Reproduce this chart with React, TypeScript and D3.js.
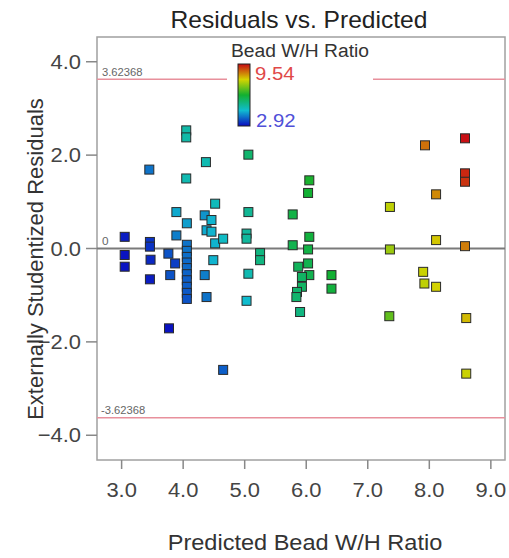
import React from "react";
import * as d3 from "d3";

// Diagnostic data: predicted Bead W/H ratio, externally studentized residual, actual ratio (colour)
const predicted = [
  3.05, 3.05, 3.05, 3.45, 3.46, 3.46, 3.47, 3.46, 3.77, 3.89,
  3.89, 3.76, 3.87, 3.79, 4.05, 4.05, 4.05, 4.06, 4.06, 4.06,
  4.06, 4.06, 4.06, 4.06, 4.06, 4.06, 4.06, 4.06, 4.37, 4.35,
  4.46, 4.52, 4.38, 4.46, 4.52, 4.49, 4.35, 4.38, 4.65, 4.65,
  5.06, 5.06, 5.03, 5.03, 5.06, 5.03, 5.25, 5.25, 6.05, 6.03,
  5.78, 6.05, 5.78, 6.03, 6.03, 5.87, 6.05, 5.93, 5.93, 5.85,
  5.84, 5.9, 6.41, 6.41, 7.36, 7.36, 7.35, 7.93, 8.11, 8.11,
  7.9, 7.92, 8.11, 8.58, 8.58, 8.58, 8.58, 8.6, 8.6,
];
const residuals = [
  0.25, -0.14, -0.39, 1.69, 0.14, 0.04, -0.24, -0.66, -1.71, 0.78,
  0.28, -0.11, -0.32, -0.57, 2.53, 2.38, 1.5, 0.54, 0.08, -0.05,
  -0.18, -0.3, -0.42, -0.55, -0.68, -0.82, -0.95, -1.08, 1.85, 0.71,
  0.61, 0.96, 0.39, 0.36, 0.11, -0.25, -0.57, -1.04, 0.21, -2.6,
  2.01, 0.78, 0.32, 0.21, -0.54, -1.12, -0.1, -0.25, 1.46, 1.19,
  0.73, 0.25, 0.07, -0.02, -0.32, -0.39, -0.57, -0.61, -0.82, -0.93,
  -1.04, -1.36, -0.57, -0.86, 0.89, -0.02, -1.45, 2.21, 1.16, 0.18,
  -0.5, -0.75, -0.82, 2.36, 1.61, 1.43, 0.05, -1.49, -2.68,
];
const actual = [
  3.1, 3.0, 3.0, 3.9, 3.3, 3.3, 3.2, 3.1, 3.0, 4.4,
  4.0, 3.6, 3.4, 3.6, 5.0, 5.0, 4.9, 4.3, 3.9, 3.9,
  3.85, 3.8, 3.8, 3.75, 3.7, 3.7, 3.65, 3.6, 4.9, 4.2,
  4.5, 4.8, 4.4, 4.5, 4.5, 4.5, 4.0, 3.9, 4.7, 3.7,
  5.6, 5.2, 5.1, 5.1, 4.9, 4.6, 5.4, 5.4, 6.3, 6.2,
  6.0, 6.1, 5.9, 6.0, 5.9, 5.8, 5.9, 5.7, 5.7, 5.6,
  5.6, 5.4, 6.2, 6.1, 7.7, 7.4, 6.9, 8.7, 8.5, 8.0,
  7.8, 7.7, 7.9, 9.5, 9.3, 9.2, 8.6, 8.1, 7.8,
];

const xTicks = [3, 4, 5, 6, 7, 8, 9];
const yTicks = [-4, -2, 0, 2, 4];
const limitValue = 3.62368;
const colorMin = 2.92;
const colorMax = 9.54;
const colorStops = ["#0a0ac0", "#10bcd0", "#12b030", "#d4d400", "#c80a14"];

const W = 509;
const H = 558;
const FONT = "'Liberation Sans', Arial, sans-serif";
const STRETCH = 1.07;

// horizontal text, slightly widened
function HText({
  x,
  y,
  size,
  fill,
  anchor = "start",
  children,
}: {
  x: number;
  y: number;
  size: number;
  fill: string;
  anchor?: "start" | "middle" | "end";
  children: React.ReactNode;
}) {
  return (
    <text
      transform={`translate(${x},${y}) scale(${STRETCH},1)`}
      textAnchor={anchor}
      fontSize={size}
      fill={fill}
    >
      {children}
    </text>
  );
}

export default function App() {
  const x = d3.scaleLinear().domain([2.6, 9.23]).range([97, 505]);
  const y = d3.scaleLinear().domain([-4.53, 4.53]).range([460, 37]);
  const color = d3
    .scaleLinear<string>()
    .domain(d3.range(5).map((i) => colorMin + (i * (colorMax - colorMin)) / 4))
    .range(colorStops)
    .interpolate(d3.interpolateRgb);
  const fmt = d3.format(".1f");
  const [x0, x1] = x.range();
  const [yb, yt] = y.range();

  const points = predicted.map((p, i) => ({ p, r: residuals[i], a: actual[i] }));

  // colour bar geometry
  const barX = 238;
  const barTop = 64;
  const barBottom = 126;
  const gradStops = d3.range(0, 1.0001, 0.05).map((t) => ({
    offset: t,
    c: color(colorMax - t * (colorMax - colorMin)),
  }));

  return (
    <svg
      width={W}
      height={H}
      style={{ position: "absolute", left: 0, top: 0, background: "#fff" }}
      fontFamily={FONT}
    >
      <defs>
        <linearGradient id="cbar" x1="0" y1="0" x2="0" y2="1">
          {gradStops.map((s, i) => (
            <stop key={i} offset={s.offset} stopColor={s.c} />
          ))}
        </linearGradient>
      </defs>

      {/* title */}
      <HText x={299} y={28} size={23} fill="#222" anchor="middle">
        Residuals vs. Predicted
      </HText>

      {/* plot frame */}
      <rect x={x0} y={yt} width={x1 - x0} height={yb - yt} fill="none" stroke="#a0a0a0" strokeWidth={1.5} />

      {/* limit lines */}
      {[limitValue, -limitValue].map((v) => (
        <line key={v} x1={x0} x2={x1} y1={y(v)} y2={y(v)} stroke="#e8909c" strokeWidth={1.5} />
      ))}
      <HText x={102} y={y(limitValue) - 3} size={10.5} fill="#666">
        {limitValue.toFixed(5)}
      </HText>
      <HText x={101} y={y(-limitValue) - 4} size={10.5} fill="#666">
        {(-limitValue).toFixed(5)}
      </HText>

      {/* zero line */}
      <line x1={x0} x2={x1} y1={y(0)} y2={y(0)} stroke="#7a7a7a" strokeWidth={2} />
      <HText x={102} y={y(0) - 4} size={11} fill="#666">
        0
      </HText>

      {/* y axis ticks */}
      {yTicks.map((t) => (
        <g key={t}>
          <line x1={x0 - 11} x2={x0} y1={y(t)} y2={y(t)} stroke="#888" strokeWidth={1.5} />
          <HText x={81} y={y(t) + 7} size={20.5} fill="#444" anchor="end">
            {fmt(t)}
          </HText>
        </g>
      ))}
      {/* x axis ticks */}
      {xTicks.map((t) => (
        <g key={t}>
          <line x1={x(t)} x2={x(t)} y1={yb} y2={yb + 9} stroke="#888" strokeWidth={1.5} />
          <HText x={x(t)} y={497} size={20.5} fill="#444" anchor="middle">
            {fmt(t)}
          </HText>
        </g>
      ))}

      {/* axis titles */}
      <text
        transform={`translate(43, 259) rotate(-90)`}
        textAnchor="middle"
        fontSize={22}
        fill="#333"
      >
        Externally Studentized Residuals
      </text>
      <HText x={305} y={550} size={22} fill="#333" anchor="middle">
        Predicted Bead W/H Ratio
      </HText>

      {/* points */}
      {points.map((d, i) => (
        <rect
          key={i}
          x={x(d.p) - 4.5}
          y={y(d.r) - 4.5}
          width={9}
          height={9}
          fill={color(d.a)}
          stroke="#2a2a2a"
          strokeWidth={1}
        />
      ))}

      {/* colour legend */}
      <rect x={227} y={39} width={146} height={92} fill="#fff" />
      <HText x={300} y={57} size={18} fill="#333" anchor="middle">
        Bead W/H Ratio
      </HText>
      <rect
        x={barX}
        y={barTop}
        width={12}
        height={barBottom - barTop}
        fill="url(#cbar)"
        stroke="#222"
        strokeWidth={1}
      />
      <HText x={255} y={80} size={19} fill="#e04848">
        {colorMax.toFixed(2)}
      </HText>
      <HText x={256} y={127} size={19} fill="#5050d8">
        {colorMin.toFixed(2)}
      </HText>
    </svg>
  );
}
